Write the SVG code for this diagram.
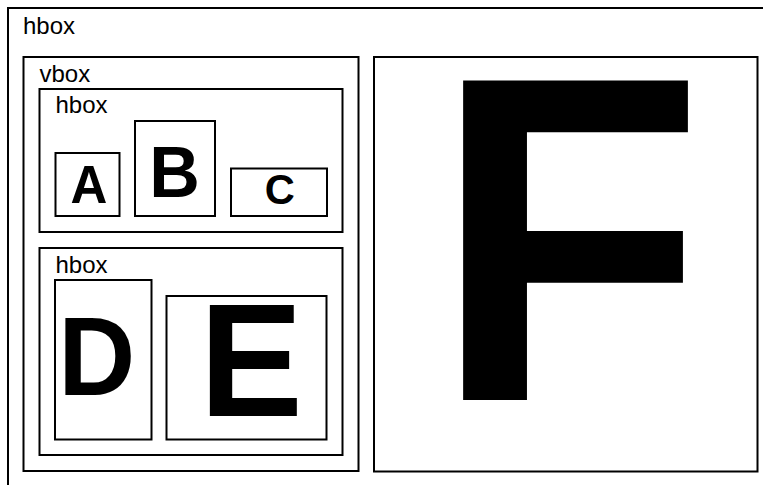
<svg xmlns="http://www.w3.org/2000/svg" width="763" height="485" viewBox="0 0 763 485">
<style>
.box{fill:#fff;stroke:#000;stroke-width:2}
.lbl{font-family:"Liberation Sans",Arial,sans-serif;font-size:24px;fill:#000}
.big{font-family:"Liberation Sans",Arial,sans-serif;font-weight:bold;fill:#000;text-anchor:middle}
</style>
<rect width="763" height="485" fill="#fff"/>
<g id="outer-hbox">
<rect class="box" x="8" y="8" width="800" height="520"/>
<text class="lbl" x="23" y="34.3">hbox</text>
</g>
<g id="vbox">
<rect class="box" x="23.5" y="57" width="335" height="414"/>
<text class="lbl" x="39.5" y="82">vbox</text>
</g>
<g id="hbox-top">
<rect class="box" x="39.5" y="89" width="303" height="143"/>
<text class="lbl" x="55.5" y="113.3">hbox</text>
</g>
<g id="A">
<rect class="box" x="55.5" y="153" width="64" height="63"/>
<text class="big" transform="translate(89,202.7) scale(1,1.04)" font-size="51">A</text>
</g>
<g id="B">
<rect class="box" x="135" y="121" width="80" height="95"/>
<text class="big" transform="translate(174.4,196.7) scale(1,1.04)" font-size="70">B</text>
</g>
<g id="C">
<rect class="box" x="231" y="168.5" width="96" height="47.5"/>
<text class="big" transform="translate(279.7,204.2) scale(1,1.04)" font-size="41.6">C</text>
</g>
<g id="hbox-bottom">
<rect class="box" x="39.5" y="248" width="303" height="207"/>
<text class="lbl" x="55.5" y="272.5">hbox</text>
</g>
<g id="D">
<rect class="box" x="55" y="280" width="96.5" height="159.5"/>
<text class="big" transform="translate(96.7,395) scale(1,1.04)" font-size="106.6">D</text>
</g>
<g id="E">
<rect class="box" x="166.5" y="296" width="160" height="143.5"/>
<text class="big" transform="translate(251.1,416) scale(1,1.04)" font-size="155">E</text>
</g>
<g id="F">
<rect class="box" x="374" y="57" width="383.5" height="414.5"/>
<text class="big" transform="translate(568.8,400) scale(1,1.048)" font-size="443">F</text>
</g>
<g id="connectors"/>
</svg>
